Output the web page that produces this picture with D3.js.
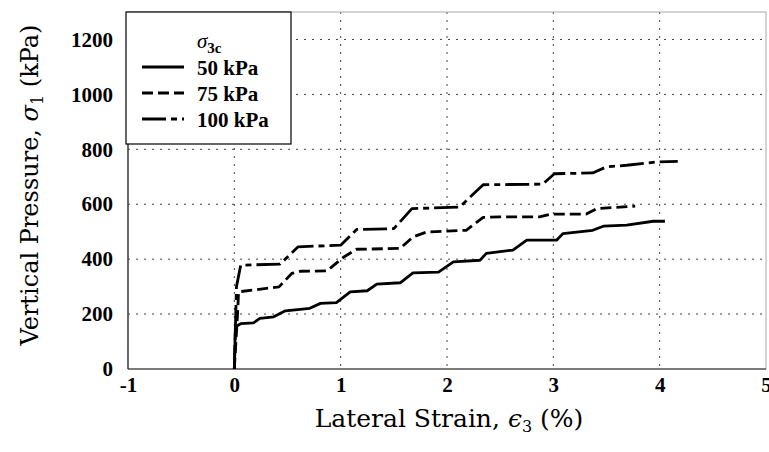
<!DOCTYPE html>
<html>
<head>
<meta charset="utf-8">
<script src="https://cdn.jsdelivr.net/npm/d3@7"></script>
<style>
  body { margin: 0; background: #fff; }
</style>
</head>
<body>
<script>
// values (strain in %, pressure in kPa)
const strain50 = [0, 0.01, 0.06, 0.18, 0.24, 0.37, 0.48, 0.71, 0.81, 0.96, 1.09, 1.25, 1.34, 1.56, 1.68, 1.92, 2.06, 2.31, 2.37, 2.62, 2.75, 3.03, 3.09, 3.37, 3.47, 3.69, 3.94, 4.05];
const stress50 = [0, 154, 165, 168, 184, 190, 212, 221, 239, 242, 281, 285, 309, 314, 350, 353, 390, 396, 421, 433, 469, 469, 493, 505, 520, 524, 538, 538];

const strain75 = [0, 0.03, 0.04, 0.42, 0.54, 0.62, 0.87, 1.03, 1.15, 1.56, 1.68, 1.81, 2.18, 2.34, 2.50, 2.87, 2.98, 3.31, 3.41, 3.77];
const stress75 = [0, 200, 281, 299, 348, 356, 357, 408, 436, 439, 481, 499, 505, 552, 554, 554, 564, 564, 584, 593];

const strain100 = [0, 0.02, 0.06, 0.43, 0.60, 1.00, 1.15, 1.50, 1.67, 2.12, 2.34, 2.90, 3.01, 3.37, 3.50, 3.69, 3.97, 4.17];
const stress100 = [0, 300, 378, 382, 445, 451, 508, 511, 584, 590, 671, 673, 711, 714, 736, 742, 754, 756];

const seriesLabels = ["50 kPa", "75 kPa", "100 kPa"];
const xTicks = [-1, 0, 1, 2, 3, 4, 5];
const yTicks = [0, 200, 400, 600, 800, 1000, 1200];

const series = [
    { label: seriesLabels[0], x: strain50, y: stress50, dash: null },
    { label: seriesLabels[1], x: strain75, y: stress75, dash: "11,5" },
    { label: seriesLabels[2], x: strain100, y: stress100, dash: "24,5,6,5" }
];

const serif = "'Liberation Serif', 'Times New Roman', serif";
const wideSerif = "'DejaVu Serif', serif";

const margin = { top: 12, right: 3, bottom: 83, left: 128 };
const width = 769 - margin.left - margin.right;
const height = 452 - margin.top - margin.bottom;

const svg = d3.select("body").append("svg")
    .attr("width", 769)
    .attr("height", 452)
    .append("g")
    .attr("transform", `translate(${margin.left},${margin.top})`);

const xScale = d3.scaleLinear().domain([-1, 5]).range([0, width]);
const yScale = d3.scaleLinear().domain([0, 1300]).range([height, 0]);

// dotted grid
svg.append("g")
    .selectAll("line")
    .data(yTicks.filter(d => d > 0))
    .join("line")
    .attr("x1", 0).attr("x2", width)
    .attr("y1", d => yScale(d)).attr("y2", d => yScale(d))
    .attr("stroke", "#444").attr("stroke-width", 1)
    .attr("stroke-dasharray", "2,6");

svg.append("g")
    .selectAll("line")
    .data(xTicks.filter(d => d > -1 && d < 5))
    .join("line")
    .attr("x1", d => xScale(d)).attr("x2", d => xScale(d))
    .attr("y1", 0).attr("y2", height)
    .attr("stroke", "#444").attr("stroke-width", 1)
    .attr("stroke-dasharray", "2,6");

// frame
svg.append("rect")
    .attr("width", width).attr("height", height)
    .attr("fill", "none").attr("stroke", "#aaa").attr("stroke-width", 1);
svg.append("line")
    .attr("x1", 0).attr("x2", 0).attr("y1", 0).attr("y2", height)
    .attr("stroke", "#222").attr("stroke-width", 1.2);
svg.append("line")
    .attr("x1", 0).attr("x2", width).attr("y1", height).attr("y2", height)
    .attr("stroke", "#222").attr("stroke-width", 1.2);

// axes (labels only, no tick marks)
const xAxis = d3.axisBottom(xScale).tickValues(xTicks).tickSize(0).tickPadding(8)
    .tickFormat(d => d < 0 ? "-" + (-d) : String(d));
const yAxis = d3.axisLeft(yScale).tickValues(yTicks).tickSize(0).tickPadding(15)
    .tickFormat(d => String(d));

const gx = svg.append("g").attr("transform", `translate(0,${height})`).call(xAxis);
const gy = svg.append("g").call(yAxis);
[gx, gy].forEach(g => {
    g.select(".domain").remove();
    g.selectAll("text")
        .style("font-family", serif)
        .style("font-weight", "bold")
        .style("font-size", "21px")
        .attr("fill", "#000");
});

// curves
const line = d3.line()
    .x(d => xScale(d[0]))
    .y(d => yScale(d[1]));

series.forEach(s => {
    svg.append("path")
        .datum(s.x.map((v, i) => [v, s.y[i]]))
        .attr("d", line)
        .attr("fill", "none")
        .attr("stroke", "#000")
        .attr("stroke-width", 2.8)
        .attr("stroke-linejoin", "round")
        .attr("stroke-dasharray", s.dash);
});

// legend
const legend = svg.append("g").attr("transform", "translate(-2,0)");
legend.append("rect")
    .attr("width", 165).attr("height", 132)
    .attr("fill", "#fff").attr("stroke", "#000").attr("stroke-width", 1.2);

const lt = legend.append("text").attr("x", 71).attr("y", 36)
    .style("font-family", serif).style("font-size", "21px");
lt.append("tspan").style("font-style", "italic").text("σ");
lt.append("tspan").style("font-weight", "bold").style("font-size", "15px").attr("dy", 5).text("3c");

series.forEach((s, i) => {
    const yy = 55 + i * 26;
    legend.append("line")
        .attr("x1", 16).attr("x2", 58)
        .attr("y1", yy).attr("y2", yy)
        .attr("stroke", "#000").attr("stroke-width", 2.8)
        .attr("stroke-dasharray", s.dash);
    legend.append("text")
        .attr("x", 71).attr("y", yy + 8)
        .style("font-family", serif)
        .style("font-size", "21px").style("font-weight", "bold")
        .text(s.label);
});

// axis titles
const xt = svg.append("text")
    .attr("x", 321)
    .attr("y", height + 58)
    .attr("text-anchor", "middle")
    .style("font-family", wideSerif)
    .style("font-size", "25px");
xt.append("tspan").text("Lateral Strain, ");
xt.append("tspan").style("font-style", "italic").text("ϵ");
xt.append("tspan").style("font-size", "16px").attr("dy", 5).text("3");
xt.append("tspan").attr("dy", -5).text(" (%)");

const yt = svg.append("text")
    .attr("transform", "rotate(-90)")
    .attr("x", -173)
    .attr("y", -90)
    .attr("text-anchor", "middle")
    .style("font-family", wideSerif)
    .style("font-size", "24px");
yt.append("tspan").text("Vertical Pressure, ");
yt.append("tspan").style("font-style", "italic").text("σ");
yt.append("tspan").style("font-size", "16px").attr("dy", 5).text("1");
yt.append("tspan").attr("dy", -5).text(" (kPa)");
</script>
</body>
</html>
